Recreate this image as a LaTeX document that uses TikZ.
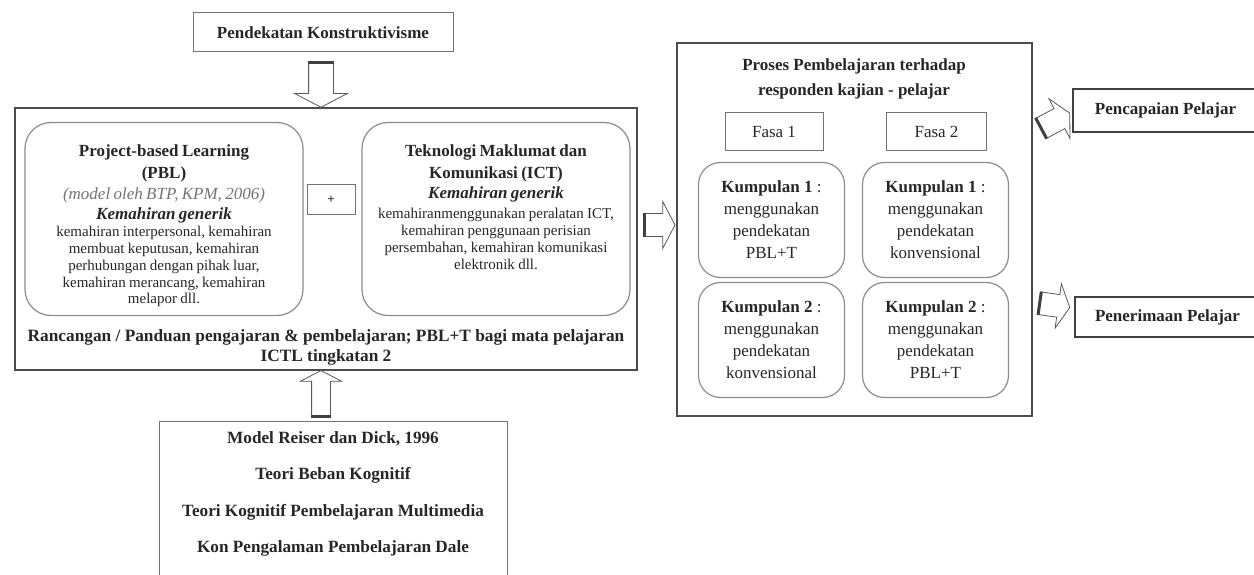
\documentclass[tikz,border=0pt]{standalone}
\usepackage{fontspec}
\setmainfont{Liberation Serif}
\usepackage{tikz}
\usetikzlibrary{shapes.arrows}

\newcommand{\hdfont}{\bfseries\fontsize{17}{22}\selectfont}
\newcommand{\smfont}{\fontsize{15}{16.8}\selectfont}

\begin{document}
\begin{tikzpicture}[x=1pt,y=-1pt,
    every node/.style={align=center,text=black!85,inner sep=0pt},
    outerbox/.style={draw=black!70,line width=2.5pt},
    softbox/.style={draw=black!45,line width=1.2pt,rounded corners=26pt},
    plainbox/.style={draw=black!55,line width=1pt},
    sidebox/.style={minimum width=185pt,font=\hdfont},
    blkarrow/.style={single arrow,draw=black!65,fill=white,line width=0.8pt,
        inner xsep=0pt,single arrow tip angle=125},
    tailbar/.style={line width=3pt,black!75}]
\useasboundingbox (0,0) rectangle (1254,575);

% inputs
\node[plainbox,minimum width=260pt,minimum height=39pt,font=\hdfont] (pk) at (323,32.5) {Pendekatan Konstruktivisme};
\node[outerbox,minimum width=622pt,minimum height=262pt] (mainbox) at (326,239) {};
\node[softbox,minimum width=278pt,minimum height=193pt] (pbl) at (164,219) {};
\node[anchor=north,text width=272pt] (pbltxt) at (164,145)
  {{\hdfont Project-based Learning\\(PBL)\par}
   {\fontsize{17}{21}\selectfont\itshape\color{black!55}(model oleh BTP, KPM, 2006)\par}
   {\fontsize{17}{20}\selectfont\bfseries\itshape Kemahiran generik\par}
   {\smfont kemahiran interpersonal, kemahiran\\membuat keputusan, kemahiran\\perhubungan dengan pihak luar,\\kemahiran merancang, kemahiran\\melapor dll.\par}};
\node[plainbox,minimum width=48pt,minimum height=30pt,font=\bfseries\fontsize{13}{15}\selectfont] (plus) at (331,200) {+};
\node[softbox,minimum width=268pt,minimum height=193pt] (ict) at (496,219) {};
\node[anchor=north,text width=264pt] (icttxt) at (496,145)
  {{\hdfont Teknologi Maklumat dan\\Komunikasi (ICT)\par}
   {\fontsize{17}{20}\selectfont\bfseries\itshape Kemahiran generik\par}
   \vspace{3pt}
   {\smfont kemahiranmenggunakan peralatan ICT,\\kemahiran penggunaan perisian\\persembahan, kemahiran komunikasi\\elektronik dll.\par}};
\node[anchor=north,font=\bfseries\fontsize{17.3}{20}\selectfont] (rancangan) at (326,329)
  {Rancangan / Panduan pengajaran \& pembelajaran; PBL+T bagi mata pelajaran\\ICTL tingkatan 2};

\node[minimum width=347pt,minimum height=156pt] (mdl) at (333.5,500) {};
\draw[plainbox] (mdl.south west) |- (mdl.north east) -- (mdl.south east);
\node[anchor=north,font=\bfseries\fontsize{17.2}{36.5}\selectfont] (mdltxt) at (333,431)
  {Model Reiser dan Dick, 1996\\Teori Beban Kognitif\\Teori Kognitif Pembelajaran Multimedia\\Kon Pengalaman Pembelajaran Dale};

% process
\node[outerbox,minimum width=355pt,minimum height=373pt] (proses) at (854.5,229.5) {};
\node[anchor=north,font=\bfseries\fontsize{17}{25}\selectfont] (prosestitle) at (854,59)
  {Proses Pembelajaran terhadap\\responden kajian - pelajar};
\node[plainbox,minimum width=98pt,minimum height=38pt,font=\fontsize{17}{20}\selectfont] (fasa1) at (774,132) {Fasa 1};
\node[plainbox,minimum width=100pt,minimum height=38pt,font=\fontsize{17}{20}\selectfont] (fasa2) at (936.5,132) {Fasa 2};
\foreach \c/\x/\k/\y/\p in {a/771.5/1/220/PBL+T, b/935.5/1/220/konvensional,
                            c/771.5/2/340/konvensional, d/935.5/2/340/PBL+T}
  \node[softbox,rounded corners=22pt,minimum width=146pt,minimum height=115pt,
        font=\fontsize{17}{22}\selectfont] (kump\c) at (\x,\y)
    {\textbf{Kumpulan \k} :\\menggunakan\\pendekatan\\\p};

% outputs
\node[sidebox,minimum height=43pt] (capai) at (1165.5,110.5) {Pencapaian Pelajar};
\node[sidebox,minimum height=40pt] (terima) at (1167.5,317) {Penerimaan Pelajar};
\foreach \n in {capai,terima}
  \draw[line width=2pt,black!75] (\n.north east) -- (\n.north west) -- (\n.south west) -- (\n.south east);

% block arrows
\node[blkarrow,rotate=-90,minimum height=44pt,inner ysep=12pt,single arrow head extend=14pt] (a1) at (321,82) {};
\node[blkarrow,rotate=90,minimum height=46pt,inner ysep=9pt,single arrow head extend=11pt] (a2) at (321,396) {};
\node[blkarrow,minimum height=30pt,inner ysep=11pt,single arrow head extend=12pt] (a3) at (657,225) {};
\node[blkarrow,rotate=28,minimum height=32pt,inner ysep=11pt,single arrow head extend=11pt] (a4) at (1053,122) {};
\node[blkarrow,rotate=-8,minimum height=30pt,inner ysep=11pt,single arrow head extend=11pt] (a5) at (1052,305) {};
\foreach \a in {a1,a2,a3,a4,a5}
  \draw[tailbar] (\a.before tail) -- (\a.after tail);
\end{tikzpicture}
\end{document}
